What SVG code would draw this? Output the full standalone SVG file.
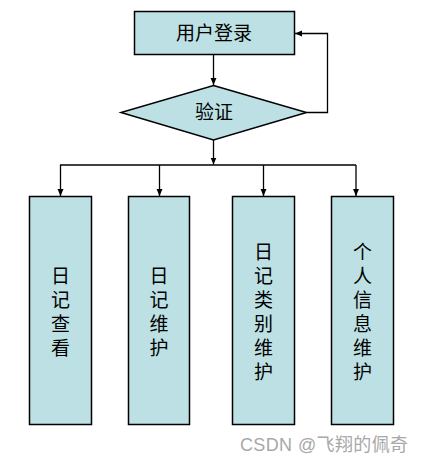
<svg xmlns="http://www.w3.org/2000/svg" width="426" height="462" viewBox="0 0 426 462">
<defs>
<style>
.n{fill:#bce0e3;stroke:#000;stroke-width:1.5}
.t{font-family:"Liberation Sans","Noto Sans CJK SC",sans-serif;font-size:19px;fill:#000;text-anchor:middle}
.c{fill:none;stroke:#000;stroke-width:1.3}
.w{font-family:"Liberation Sans","Noto Sans CJK SC",sans-serif;font-size:18px;fill:#a8a8a8}
</style>
<marker id="a" markerWidth="8" markerHeight="8" refX="7" refY="4" orient="auto" markerUnits="userSpaceOnUse">
<path d="M0,1 L7,4 L0,7 Z" fill="#000"/>
</marker>
</defs>
<rect width="426" height="462" fill="#fff"/>
<g id="connectors">
<line class="c" x1="213.5" y1="54" x2="213.5" y2="85" marker-end="url(#a)"/>
<polyline class="c" points="306.5,112.5 327.5,112.5 327.5,33.5 295,33.5" marker-end="url(#a)"/>
<line class="c" x1="213.5" y1="140" x2="213.5" y2="164.5" marker-end="url(#a)"/>
<line class="c" x1="60" y1="165" x2="356" y2="165"/>
<line class="c" x1="60.5" y1="165" x2="60.5" y2="196" marker-end="url(#a)"/>
<line class="c" x1="159.5" y1="165" x2="159.5" y2="196" marker-end="url(#a)"/>
<line class="c" x1="263.5" y1="165" x2="263.5" y2="196" marker-end="url(#a)"/>
<line class="c" x1="356" y1="165" x2="356" y2="196" marker-end="url(#a)"/>
</g>
<g id="login">
<rect class="n" x="134.5" y="11.5" width="160" height="43"/>
<text class="t" x="214" y="40">用户登录</text>
</g>
<g id="verify">
<polygon class="n" points="213.5,85.5 306.5,112.5 213.5,140 121,112.5"/>
<text class="t" x="214" y="119">验证</text>
</g>
<g id="view">
<rect class="n" x="29.5" y="196.5" width="62" height="228"/>
<text class="t" x="60.5"><tspan x="60.5" y="283">日</tspan><tspan x="60.5" y="307">记</tspan><tspan x="60.5" y="331">查</tspan><tspan x="60.5" y="355">看</tspan></text>
</g>
<g id="maintain">
<rect class="n" x="128.5" y="196.5" width="61" height="228"/>
<text class="t" x="159"><tspan x="159" y="283">日</tspan><tspan x="159" y="307">记</tspan><tspan x="159" y="331">维</tspan><tspan x="159" y="355">护</tspan></text>
</g>
<g id="category">
<rect class="n" x="232.5" y="196.5" width="62" height="228"/>
<text class="t" x="263.5"><tspan x="263.5" y="259">日</tspan><tspan x="263.5" y="283">记</tspan><tspan x="263.5" y="307">类</tspan><tspan x="263.5" y="331">别</tspan><tspan x="263.5" y="355">维</tspan><tspan x="263.5" y="379">护</tspan></text>
</g>
<g id="personal">
<rect class="n" x="331.5" y="196.5" width="62" height="228"/>
<text class="t" x="362.5"><tspan x="362.5" y="259">个</tspan><tspan x="362.5" y="283">人</tspan><tspan x="362.5" y="307">信</tspan><tspan x="362.5" y="331">息</tspan><tspan x="362.5" y="355">维</tspan><tspan x="362.5" y="379">护</tspan></text>
</g>
<text class="w" x="240" y="451" textLength="168" lengthAdjust="spacing">CSDN @飞翔的佩奇</text>
</svg>
